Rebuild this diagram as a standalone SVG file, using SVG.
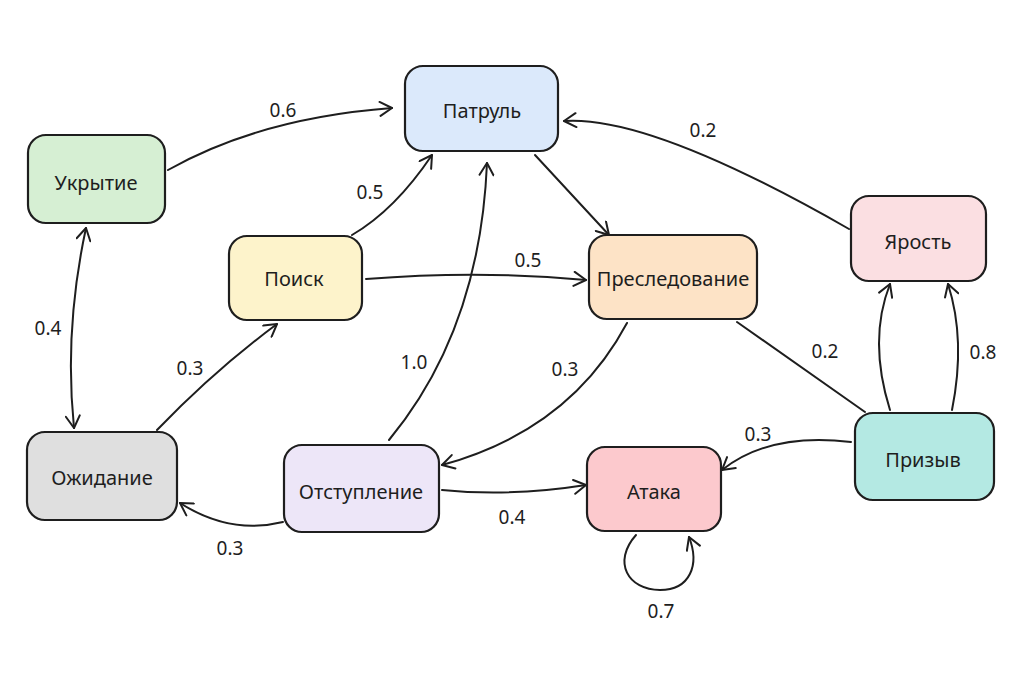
<svg xmlns="http://www.w3.org/2000/svg" width="1021" height="674" viewBox="0 0 1021 674">
<style>
.box{stroke:#1e1e1e;stroke-width:2.2}
.t{font-family:"Noto Sans","DejaVu Sans",sans-serif;font-size:20px;fill:#1e1e1e;text-anchor:middle;dominant-baseline:central}
.e{fill:none;stroke:#1e1e1e;stroke-width:2;stroke-linecap:round}
.l{font-family:"Noto Sans","DejaVu Sans",sans-serif;font-size:19px;fill:#1e1e1e;text-anchor:middle;dominant-baseline:central}
</style>
<defs>
<marker id="a" viewBox="0 0 16 16" refX="14" refY="8" markerWidth="16" markerHeight="16" markerUnits="userSpaceOnUse" orient="auto-start-reverse">
<path d="M2,1 L14,8 L2,15" fill="none" stroke="#1e1e1e" stroke-width="2" stroke-linecap="round" stroke-linejoin="round"/>
</marker>
</defs>
<rect width="1021" height="674" fill="#ffffff"/>
<g id="connectors">
<path class="e" d="M168,170 Q260,118 392,108" marker-end="url(#a)"/>
<text class="l" x="283" y="110">0.6</text>
<path class="e" d="M352,235 Q395,210 432,155" marker-end="url(#a)"/>
<text class="l" x="370" y="192">0.5</text>
<path class="e" d="M389,440 Q480,330 487,163" marker-end="url(#a)"/>
<text class="l" x="414" y="362">1.0</text>
<path class="e" d="M535,155 L609,235" marker-end="url(#a)"/>
<path class="e" d="M366,279 Q480,270 586,280" marker-end="url(#a)"/>
<text class="l" x="528" y="260">0.5</text>
<path class="e" d="M849,229 Q650,115 564,121" marker-end="url(#a)"/>
<text class="l" x="703" y="130">0.2</text>
<path class="e" d="M157,430 Q215,370 277,324" marker-end="url(#a)"/>
<text class="l" x="190" y="368">0.3</text>
<path class="e" d="M86,228 Q64,330 74,428" marker-start="url(#a)" marker-end="url(#a)"/>
<text class="l" x="48" y="328">0.4</text>
<path class="e" d="M627,323 Q570,430 442,465" marker-end="url(#a)"/>
<text class="l" x="565" y="369">0.3</text>
<path class="e" d="M737,322 L865,412"/>
<text class="l" x="825" y="351">0.2</text>
<path class="e" d="M283,522 Q230,535 180,503" marker-end="url(#a)"/>
<text class="l" x="230" y="548">0.3</text>
<path class="e" d="M442,490 Q510,497 586,485" marker-end="url(#a)"/>
<text class="l" x="512" y="517">0.4</text>
<path class="e" d="M851,442 Q770,432 722,470" marker-end="url(#a)"/>
<text class="l" x="758" y="434">0.3</text>
<path class="e" d="M890,410 Q868,340 890,284" marker-end="url(#a)"/>
<path class="e" d="M952,410 Q966,340 948,284" marker-end="url(#a)"/>
<text class="l" x="983" y="352">0.8</text>
<path class="e" d="M636,535 C612,562 628,590 660,590 C690,590 700,565 689,537" marker-end="url(#a)"/>
<text class="l" x="661" y="611">0.7</text>
</g>
<g id="n-patrol"><rect class="box" x="405" y="66" width="153" height="85" rx="18" fill="#dbe9fb"/><text class="t" x="482" y="110">Патруль</text></g>
<g id="n-cover"><rect class="box" x="28" y="135" width="137" height="88" rx="18" fill="#d6efd3"/><text class="t" x="96" y="182">Укрытие</text></g>
<g id="n-search"><rect class="box" x="229" y="236" width="133" height="84" rx="18" fill="#fdf3cb"/><text class="t" x="294" y="278">Поиск</text></g>
<g id="n-chase"><rect class="box" x="589" y="235" width="168" height="84" rx="18" fill="#fde3c6"/><text class="t" x="673" y="278">Преследование</text></g>
<g id="n-rage"><rect class="box" x="851" y="196" width="135" height="85" rx="18" fill="#fbdfe2"/><text class="t" x="918" y="241">Ярость</text></g>
<g id="n-wait"><rect class="box" x="27" y="432" width="150" height="88" rx="18" fill="#dfdfdf"/><text class="t" x="102" y="477">Ожидание</text></g>
<g id="n-retreat"><rect class="box" x="284" y="445" width="155" height="87" rx="18" fill="#ede6f8"/><text class="t" x="361" y="491">Отступление</text></g>
<g id="n-attack"><rect class="box" x="587" y="447" width="134" height="84" rx="18" fill="#fcc9cd"/><text class="t" x="654" y="491">Атака</text></g>
<g id="n-summon"><rect class="box" x="855" y="413" width="139" height="87" rx="18" fill="#b4e9e3"/><text class="t" x="923" y="459">Призыв</text></g>
</svg>
